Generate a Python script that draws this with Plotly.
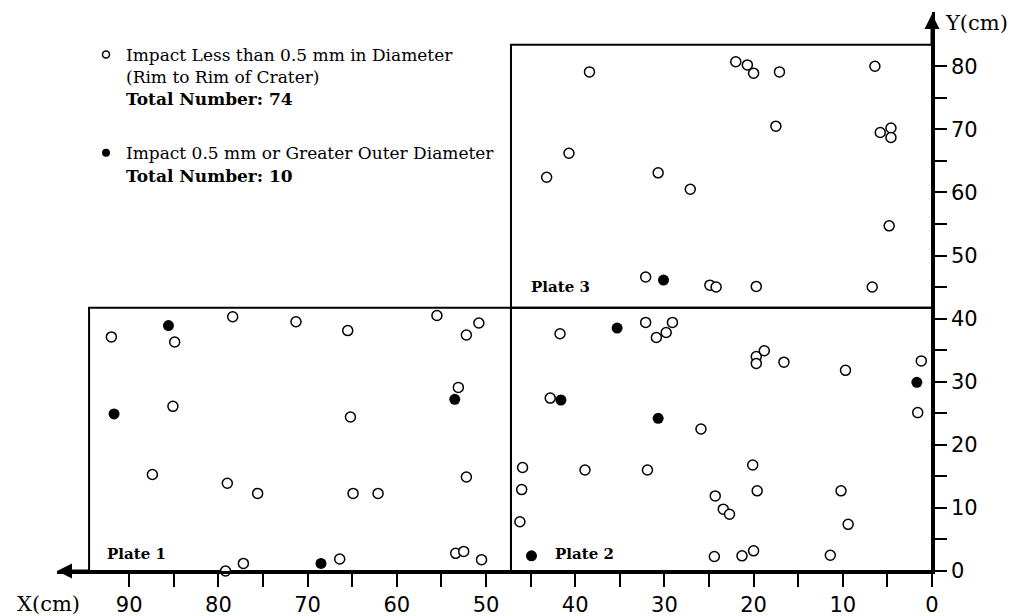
import plotly.graph_objects as go

# impact positions in cm, measured from the lower right corner of the plates
small_x = [92.0, 84.9, 78.4, 71.3, 65.5, 55.5, 52.2, 50.8, 85.1, 65.2, 53.1, 87.4,
           79.0, 75.6, 64.9, 62.1, 52.2, 77.2, 79.2, 66.4, 53.4, 52.5, 50.5,
           41.7, 32.1, 30.9, 29.8, 29.1, 19.7, 19.7, 18.8, 16.6, 9.7, 1.2, 1.6,
           42.8, 25.9, 45.9, 38.9, 31.9, 20.1, 46.0, 24.3, 19.6, 10.2, 23.4, 22.7,
           46.2, 9.4, 24.4, 21.3, 20.0, 11.4,
           38.4, 22.0, 20.7, 20.0, 17.1, 6.4, 17.5, 5.8, 4.6, 4.6, 40.7, 43.2,
           30.7, 27.1, 4.8, 32.1, 24.9, 24.2, 19.7, 6.7]
small_y = [37.1, 36.3, 40.3, 39.5, 38.1, 40.5, 37.4, 39.3, 26.1, 24.4, 29.1, 15.3,
           13.9, 12.3, 12.3, 12.3, 14.9, 1.2, 0.0, 1.9, 2.8, 3.1, 1.8,
           37.6, 39.4, 37.0, 37.8, 39.4, 34.0, 32.9, 34.9, 33.1, 31.8, 33.3, 25.1,
           27.4, 22.5, 16.4, 16.0, 16.0, 16.8, 12.9, 11.9, 12.7, 12.7, 9.8, 9.0,
           7.8, 7.4, 2.3, 2.4, 3.2, 2.5,
           79.1, 80.7, 80.2, 78.9, 79.1, 80.0, 70.5, 69.5, 70.2, 68.7, 66.2, 62.4,
           63.1, 60.5, 54.7, 46.6, 45.3, 45.0, 45.1, 45.0]

large_x = [85.6, 91.7, 53.5, 68.5, 35.3, 41.6, 30.7, 1.7, 44.9, 30.1]
large_y = [38.9, 24.9, 27.2, 1.2, 38.5, 27.1, 24.2, 29.9, 2.4, 46.1]

plate_names = ["Plate 1", "Plate 2", "Plate 3"]
plate_x0 = [94.5, 47.2, 47.2]
plate_x1 = [47.2, 0.0, 0.0]
plate_y0 = [0.0, 0.0, 41.7]
plate_y1 = [41.7, 41.7, 83.4]

x_ticks = list(range(0, 91, 10))
x_minor = list(range(5, 90, 10))
y_ticks = list(range(0, 81, 10))
y_minor = list(range(5, 80, 10))

small_label = ("Impact Less than 0.5 mm in Diameter<br>(Rim to Rim of Crater)"
               "<br><b>Total Number: 74</b>")
large_label = "Impact 0.5 mm or Greater Outer Diameter<br><b>Total Number: 10</b>"

W, H = 1020, 616
OFF = 8  # page margin around the plot div
# plot area in page pixels: x=0 at 932, y=0 at 571
ML = 57 - OFF
MR = W - (932 - OFF)
MT = 12 - OFF
MB = H - (571 - OFF)
PX_PER_CM_X = 8.92
PX_PER_CM_Y = 6.31
x_left = (W - ML - MR) / PX_PER_CM_X
y_top = (H - MT - MB) / PX_PER_CM_Y


def paper_x(px):
    return (px - OFF - ML) / (W - ML - MR)


def paper_y(py):
    return (H - MB - (py - OFF)) / (H - MT - MB)


serif = "DejaVu Serif"
sans = "DejaVu Sans"

fig = go.Figure()

# legend-only entries (smaller symbols than in the plot)
fig.add_trace(go.Scatter(
    x=[None], y=[None], mode="markers", name=small_label, legendgroup="a",
    marker=dict(size=7, color="white", line=dict(color="black", width=1.5))))
fig.add_trace(go.Scatter(
    x=[None], y=[None], mode="markers", name=large_label, legendgroup="b",
    marker=dict(size=8, color="black", line=dict(width=0))))

fig.add_trace(go.Scatter(
    x=small_x, y=small_y, mode="markers", showlegend=False, cliponaxis=False,
    marker=dict(size=10, color="white", line=dict(color="black", width=1.5))))
fig.add_trace(go.Scatter(
    x=large_x, y=large_y, mode="markers", showlegend=False, cliponaxis=False,
    marker=dict(size=11, color="black", line=dict(width=0))))

# plate outlines and names
label_dx = [16, 42, 18]
label_dy = [17.5, 17.5, 20.5]
for i, name in enumerate(plate_names):
    fig.add_shape(type="rect", xref="x", yref="y",
                  x0=plate_x0[i], x1=plate_x1[i], y0=plate_y0[i], y1=plate_y1[i],
                  line=dict(color="black", width=2), layer="below")
    fig.add_annotation(x=plate_x0[i], y=plate_y0[i], xref="x", yref="y",
                       text="<b>" + name + "</b>", showarrow=False,
                       xanchor="left", yanchor="middle",
                       xshift=label_dx[i], yshift=label_dy[i],
                       font=dict(family=serif, size=15, color="black"))

# axis arrows
fig.add_annotation(x=x_left, y=0, xref="x", yref="y", text="", showarrow=True,
                   ax=33, ay=0, arrowhead=2, arrowsize=1, arrowwidth=3,
                   arrowcolor="black")
fig.add_annotation(x=0, y=y_top - 0.3, xref="x", yref="y", text="", showarrow=True,
                   ax=0, ay=32, arrowhead=2, arrowsize=1, arrowwidth=3,
                   arrowcolor="black")

fig.add_annotation(x=paper_x(48), y=paper_y(604), xref="paper", yref="paper",
                   text="X(cm)", showarrow=False, xanchor="center", yanchor="middle",
                   font=dict(family=serif, size=21, color="black"))
fig.add_annotation(x=paper_x(976), y=paper_y(23), xref="paper", yref="paper",
                   text="Y(cm)", showarrow=False, xanchor="center", yanchor="middle",
                   font=dict(family=serif, size=21, color="black"))

tick_style = dict(ticks="outside", tickwidth=1.5, tickcolor="black")

fig.update_xaxes(
    range=[x_left, 0], showgrid=False, zeroline=False, automargin=False,
    showline=True, linecolor="black", linewidth=2.5,
    tickvals=x_ticks, ticklen=13, **tick_style,
    minor=dict(tickvals=x_minor, ticklen=13, **tick_style),
    tickfont=dict(family=sans, size=21, color="black"))
fig.update_yaxes(
    range=[0, y_top], side="right", showgrid=False, zeroline=False, automargin=False,
    showline=True, linecolor="black", linewidth=2.5,
    tickvals=y_ticks, ticklen=12, **tick_style,
    minor=dict(tickvals=y_minor, ticklen=12, **tick_style),
    tickfont=dict(family=sans, size=21, color="black"))

fig.update_layout(
    width=W, height=H,
    margin=dict(l=ML, r=MR, t=MT, b=MB),
    paper_bgcolor="white", plot_bgcolor="white",
    showlegend=True,
    legend=dict(x=paper_x(86), y=paper_y(37), xanchor="left", yanchor="top",
                traceorder="grouped", tracegroupgap=29, valign="top",
                bgcolor="rgba(0,0,0,0)",
                font=dict(family=serif, size=17, color="black")),
)

fig.write_html("out.html")
